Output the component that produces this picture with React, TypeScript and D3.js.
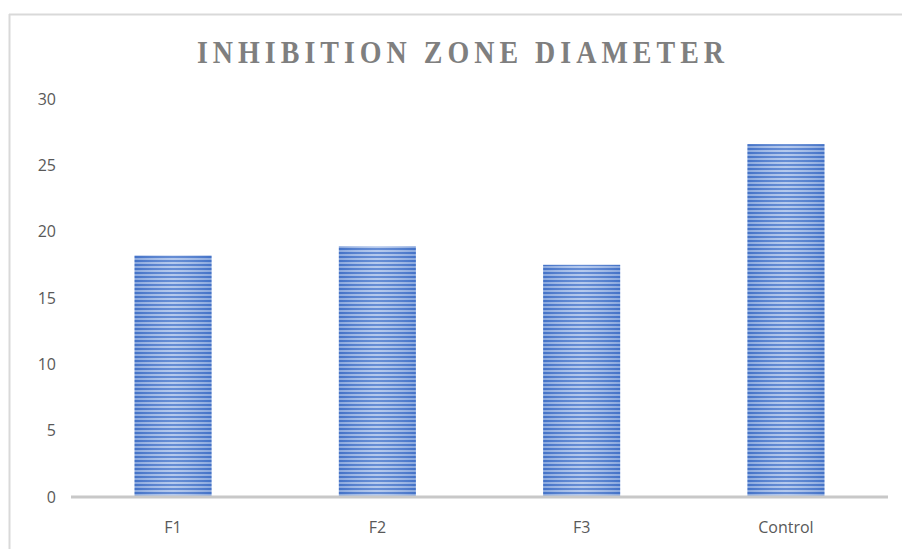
import React from "react";
import * as d3 from "d3";

const categories = ["F1", "F2", "F3", "Control"];
const values = [18.2, 18.9, 17.5, 26.6];
const yTicks = [0, 5, 10, 15, 20, 25, 30];
const title = "INHIBITION ZONE DIAMETER";

export default function App() {
  const W = 902, H = 549;
  const left = 71, right = 888, top = 99, bottom = 497;
  const x = d3.scaleBand<string>().domain(categories).range([left, right]).paddingInner(0.623).paddingOuter(0.311);
  const y = d3.scaleLinear().domain([0, 30]).range([bottom, top]);
  return (
    <svg width={W} height={H} style={{ position: "absolute", left: 0, top: 0, display: "block" }}>
      <defs>
        <pattern id="stripes" patternUnits="userSpaceOnUse" width="8" height="4">
          <rect width="8" height="4" fill="#a8c0ea" />
          <rect width="8" height="2" fill="#4a78cc" />
        </pattern>
        <linearGradient id="shade" x1="0" x2="1" y1="0" y2="0">
          <stop offset="0" stopColor="#2f5fb8" stopOpacity="0.25" />
          <stop offset="0.5" stopColor="#ffffff" stopOpacity="0.15" />
          <stop offset="1" stopColor="#2f5fb8" stopOpacity="0.25" />
        </linearGradient>
      </defs>
      <rect x={0} y={0} width={W} height={H} fill="#fff" />
      <line x1={9.5} y1={14} x2={9.5} y2={H} stroke="#d9d9d9" strokeWidth={2} />
      <line x1={9} y1={14.5} x2={W} y2={14.5} stroke="#d9d9d9" strokeWidth={2} />
      <g transform="translate(463,63) scale(1,1.15)">
        <text x={0} y={0} textAnchor="middle" fontFamily="'Liberation Serif', serif" fontWeight="bold" fontSize={28} letterSpacing={5} fill="#7f7f7f">{title}</text>
      </g>
      {yTicks.map((t) => (
        <text key={t} x={56} y={y(t)} dy="0.35em" textAnchor="end" fontFamily="'Open Sans', sans-serif" fontSize={16} fill="#595959">{t}</text>
      ))}
      {categories.map((c, i) => (
        <g key={c}>
          <rect x={x(c)} y={y(values[i])} width={x.bandwidth()} height={bottom - y(values[i])} fill="url(#stripes)" />
          <rect x={x(c)} y={y(values[i])} width={x.bandwidth()} height={bottom - y(values[i])} fill="url(#shade)" />
          <text x={(x(c) as number) + x.bandwidth() / 2} y={527} dy="0.35em" textAnchor="middle" fontFamily="'Open Sans', sans-serif" fontSize={16} fill="#595959">{c}</text>
        </g>
      ))}
      <line x1={left} x2={right} y1={bottom} y2={bottom} stroke="#c8c8c8" strokeWidth={3} />
    </svg>
  );
}
